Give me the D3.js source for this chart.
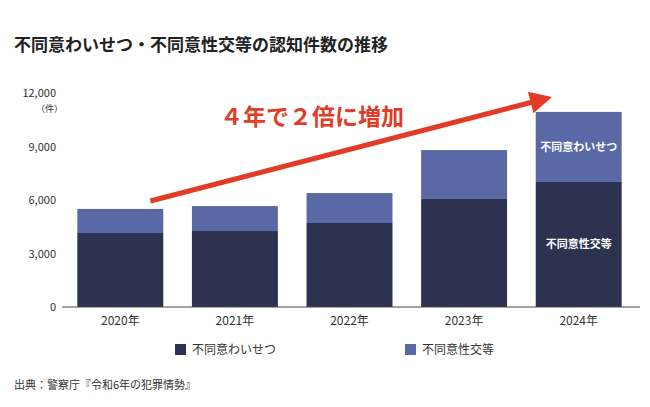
<!DOCTYPE html>
<html><head><meta charset="utf-8">
<script src="https://cdn.jsdelivr.net/npm/d3@7"></script>
<style>body{margin:0;background:#fff;font-family:"Noto Sans CJK JP","Noto Sans",sans-serif}</style>
</head><body><svg id="c" width="650" height="407"></svg>
<script>
const years = ["2020年", "2021年", "2022年", "2023年", "2024年"];
const darkVals = [4150, 4260, 4710, 6060, 7010];
const lightVals = [1350, 1400, 1680, 2740, 3930];
const yTicks = [0, 3000, 6000, 9000, 12000];
const seriesNames = ["不同意わいせつ", "不同意性交等"];
const colors = ["#2c3250", "#5b68a6"];

const svg = d3.select("#c");
const x = d3.scaleBand().domain(years).range([63, 636]).paddingInner(0.25).paddingOuter(0.125);
const y = d3.scaleLinear().domain([0, 12000]).range([307, 93]);

svg.append("text").attr("x", 14).attr("y", 51).attr("font-size", 17).attr("font-weight", 700)
  .attr("fill", "#222").text("不同意わいせつ・不同意性交等の認知件数の推移");

const yAxis = svg.append("g").attr("transform", "translate(62,0)")
  .call(d3.axisLeft(y).tickValues(yTicks).tickSize(0).tickPadding(6).tickFormat(d3.format(",")));
yAxis.select(".domain").remove();
yAxis.selectAll("text").attr("font-size", 11).attr("fill", "#333").attr("font-family", "Noto Sans CJK JP");
svg.append("text").attr("x", 36).attr("y", 112).attr("font-size", 9).attr("fill", "#333").text("（件）");

const g = svg.append("g");
g.selectAll(".d").data(years).join("rect")
  .attr("x", d => x(d)).attr("width", x.bandwidth())
  .attr("y", (d, i) => y(darkVals[i])).attr("height", (d, i) => y(0) - y(darkVals[i]))
  .attr("fill", colors[0]);
g.selectAll(".l").data(years).join("rect")
  .attr("x", d => x(d)).attr("width", x.bandwidth())
  .attr("y", (d, i) => y(darkVals[i] + lightVals[i])).attr("height", (d, i) => y(0) - y(lightVals[i]))
  .attr("fill", colors[1]);

svg.append("line").attr("x1", 62).attr("x2", 640).attr("y1", 307).attr("y2", 307).attr("stroke", "#444");

const xa = svg.append("g").attr("transform", "translate(0,307)")
  .call(d3.axisBottom(x).tickSize(0).tickPadding(9));
xa.select(".domain").remove();
xa.selectAll("text").attr("font-size", 12).attr("fill", "#333").attr("font-family", "Noto Sans CJK JP");

// labels inside 2024 bar
const last = years.length - 1, cx = x(years[last]) + x.bandwidth() / 2;
svg.append("text").attr("x", cx).attr("y", y(darkVals[last] + lightVals[last] / 2) + 4)
  .attr("text-anchor", "middle").attr("font-size", 11).attr("font-weight", 700).attr("fill", "#fff").text(seriesNames[0]);
svg.append("text").attr("x", cx).attr("y", y(darkVals[last] / 2) + 4)
  .attr("text-anchor", "middle").attr("font-size", 11).attr("font-weight", 700).attr("fill", "#fff").text(seriesNames[1]);

// arrow
const red = "#e23b28";
const x1 = x(years[0]) + x.bandwidth() * 0.85, y1 = 201, x2 = 552, y2 = 97;
const ang = Math.atan2(y2 - y1, x2 - x1);
svg.append("line").attr("x1", x1).attr("y1", y1)
  .attr("x2", x2 - 14 * Math.cos(ang)).attr("y2", y2 - 14 * Math.sin(ang))
  .attr("stroke", red).attr("stroke-width", 5);
svg.append("path").attr("fill", red).attr("transform", `translate(${x2},${y2}) rotate(${ang * 180 / Math.PI})`)
  .attr("d", "M0,0 L-22,-11 L-22,11 Z");
svg.append("text").attr("x", 312).attr("y", 125).attr("text-anchor", "middle").attr("font-size", 23)
  .attr("font-weight", 700).attr("fill", red).text("４年で２倍に増加");

// legend
const lx = [175, 405];
seriesNames.forEach((n, i) => {
  svg.append("rect").attr("x", lx[i]).attr("y", 344).attr("width", 11).attr("height", 11).attr("fill", colors[i]);
  svg.append("text").attr("x", lx[i] + 17).attr("y", 354).attr("font-size", 12).attr("fill", "#333").text(n);
});

svg.append("text").attr("x", 14).attr("y", 389).attr("font-size", 11).attr("fill", "#333")
  .text("出典：警察庁『令和6年の犯罪情勢』");
</script></body></html>
